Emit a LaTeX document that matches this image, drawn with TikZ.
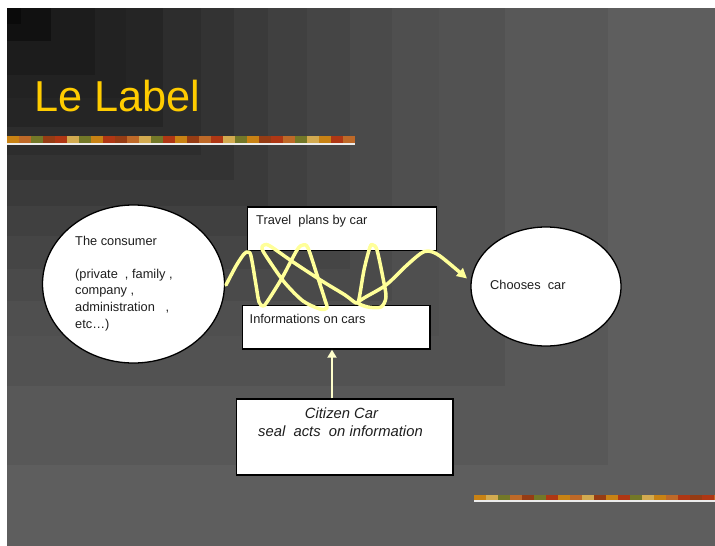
\documentclass[tikz,border=0pt]{standalone}
\usepackage{fontspec}
\setmainfont{Liberation Sans}
\usetikzlibrary{arrows.meta,shapes.geometric}
\definecolor{titleyellow}{RGB}{255,204,0}
\definecolor{squig}{RGB}{255,255,153}
\definecolor{paleyellow}{RGB}{255,255,204}
\definecolor{txt}{RGB}{30,30,30}
\definecolor{barA}{RGB}{200,130,20}
\definecolor{barB}{RGB}{150,60,20}
\definecolor{barC}{RGB}{115,120,40}
\definecolor{barD}{RGB}{210,170,80}
\definecolor{barE}{RGB}{175,55,20}
\definecolor{barF}{RGB}{190,105,40}
\begin{document}
\begin{tikzpicture}[x=1pt,y=-1pt,
  shapebox/.style={draw=black,line width=1.3pt,fill=white,rectangle,inner sep=0pt},
  shapeell/.style={draw=black,line width=1.3pt,fill=white,ellipse,inner sep=0pt},
  lbl/.style={inner sep=0pt,text=txt,font=\fontsize{12.8}{15}\selectfont},
  ilbl/.style={inner sep=0pt,text=txt,font=\fontsize{14.8}{17}\selectfont\itshape},
  squigline/.style={draw=squig,line width=3.5pt,line cap=round,line join=round,-{Triangle[width=10pt,length=10pt]}},
  uparrow/.style={draw=paleyellow,line width=2.6pt,-{Triangle[width=9pt,length=8pt]}}
]
% page and background
\fill[white] (0,0) rectangle (715,546);
\useasboundingbox (0,0) rectangle (715,546);
\foreach \xb/\g in {715/94,608/88,505/82,439/79,392/74,350/69,307/64,268/58,234/51,201/45,163/37,126/34,95/28,51/17}{
  \pgfmathsetmacro{\yb}{8+(\xb-7)*0.759887}
  \definecolor{bgc}{RGB}{\g,\g,\g}
  \fill[bgc] (7,8) rectangle (\xb,\yb);
}
\fill[black!96] (7,8) rectangle (21,24);
% title
\node[anchor=base west,inner sep=0pt,text=titleyellow,font=\fontsize{43.3}{50}\selectfont] (title) at (34,111) {Le Label};
% decorative bars
\foreach \c [count=\i from 0] in {barA,barF,barC,barB,barE,barD,barC,barA,barE,barB,barF,barD,barC,barE,barA,barB,barF,barE,barD,barC,barA,barB,barE,barF,barC,barD,barA,barE,barF}{
  \fill[\c] ({7+\i*12},136) rectangle ({min(7+\i*12+12,355)},143);
}
\fill[white!85!gray] (7,143.3) rectangle (355,145);
\foreach \c [count=\i from 0] in {barA,barD,barC,barF,barB,barC,barE,barA,barF,barD,barB,barA,barE,barC,barD,barA,barF,barE,barB,barE,barF}{
  \fill[\c] ({474+\i*12},495) rectangle ({min(474+\i*12+12,715)},500);
}
\fill[white!85!gray] (474,500.2) rectangle (715,501.8);
% shapes
\node[shapeell,minimum width=182pt,minimum height=158pt] (consumer) at (133.5,284) {};
\node[shapeell,minimum width=150pt,minimum height=119pt] (choice) at (546,286.5) {};
\node[shapebox,minimum width=189pt,minimum height=43.7pt] (travel) at (342.2,228.9) {};
\node[shapebox,minimum width=187.3pt,minimum height=43.3pt] (info) at (336.4,327.4) {};
\node[shapebox,minimum width=216.3pt,minimum height=76pt] (citizen) at (344.9,437) {};
% texts
\node[lbl,anchor=base west] (c1) at (75,245) {The consumer};
\node[lbl,anchor=base west] (c2) at (75,278) {(private\ \ , family\ ,};
\node[lbl,anchor=base west] (c3) at (75,294.7) {company\ ,};
\node[lbl,anchor=base west] (c4) at (75,311.5) {administration\ \ \ ,};
\node[lbl,anchor=base west] (c5) at (75,328.2) {etc…)};
\node[lbl,anchor=base west] (t1) at (256,224) {Travel\ \ plans by car};
\node[lbl,anchor=base west] (i1) at (249.5,323.3) {Informations on cars};
\node[lbl,anchor=base west] (ch1) at (490,289.3) {Chooses\ \ car};
\node[ilbl,anchor=base] (z1) at (341.5,418.3) {Citizen Car};
\node[ilbl,anchor=base] (z2) at (340.5,436.7) {seal\ \ acts\ \ on information};
% vertical arrow
\coordinate (ax) at (332,0);
\draw[uparrow] (citizen.north -| ax) -- (info.south -| ax);
% squiggle
\coordinate (tip) at (467,278.5);
\draw[squigline] plot[smooth,tension=0.5] coordinates {
 (226,285) (236,266) (244,254) (248,252) (251,256) (256,285) (259,302) (263,306) (267,302)
 (282,278) (297,250) (303,245) (308,248) (317,275) (325,300) (327,308) (320,309)
 (303,301) (285,283) (270,262) (262,249) (264,245) (270,246) (293,262) (322,281)
 (345,295) (356,303) (359,299) (364,270) (370,247) (373,245) (377,250) (383,278)
 (386,297) (381,307) (368,307) (358,303) (364,298) (386,285) (406,266) (420,254) (428,251)
 (440,256) (tip)};
\end{tikzpicture}
\end{document}
